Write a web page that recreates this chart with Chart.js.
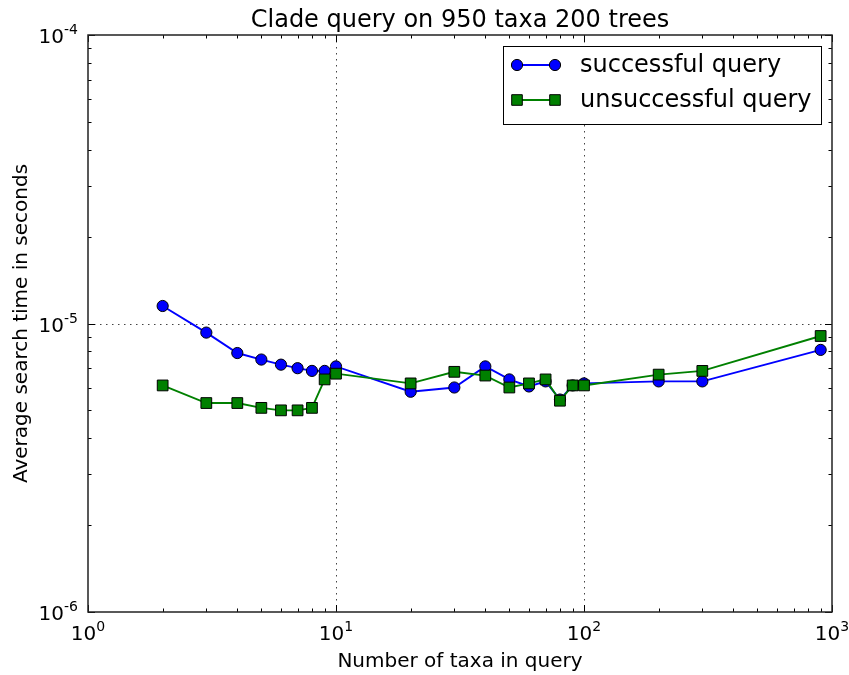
<!DOCTYPE html>
<html>
<head>
<meta charset="utf-8">
<script src="https://cdn.jsdelivr.net/npm/chart.js@4/dist/chart.umd.min.js"></script>
<style>
  body { margin: 0; background: #fff; }
  canvas { display: block; }
</style>
</head>
<body>
<canvas id="cladeChart" width="849" height="675"></canvas>
<script>
// values
const taxa = [2, 3, 4, 5, 6, 7, 8, 9, 10, 20, 30, 40, 50, 60, 70, 80, 90, 100, 200, 300, 900]
const successful = [1.15e-5, 9.3e-6, 7.9e-6, 7.5e-6, 7.2e-6, 7.0e-6, 6.85e-6, 6.85e-6, 7.1e-6,
    5.8e-6, 6.0e-6, 7.1e-6, 6.4e-6, 6.05e-6, 6.3e-6, 5.45e-6, 6.1e-6, 6.2e-6, 6.3e-6, 6.3e-6, 8.1e-6]
const unsuccessful = [6.1e-6, 5.3e-6, 5.3e-6, 5.1e-6, 5.0e-6, 5.0e-6, 5.1e-6, 6.4e-6, 6.7e-6,
    6.2e-6, 6.8e-6, 6.6e-6, 6.0e-6, 6.2e-6, 6.4e-6, 5.4e-6, 6.1e-6, 6.1e-6, 6.65e-6, 6.85e-6, 9.05e-6]

const xTickExp = [0, 1, 2, 3]
const yTickExp = [-6, -5, -4]
const titleText = 'Clade query on 950 taxa 200 trees'
const xLabel = 'Number of taxa in query'
const yLabel = 'Average search time in seconds'
const seriesNames = ['successful query', 'unsuccessful query']

const FONT = '"DejaVu Sans", sans-serif'

function pts(ys) {
    return taxa.map((x, i) => ({x: x, y: ys[i]}))
}

function powLabel(ctx, x, y, exp, align) {
    // draws 10^exp, y is baseline of "10"
    ctx.font = '20px ' + FONT
    let wBase = ctx.measureText('10').width
    ctx.font = '14px ' + FONT
    let wExp = ctx.measureText(String(exp)).width
    let total = wBase + wExp
    let left = align === 'right' ? x - total : x - total / 2
    ctx.textAlign = 'left'
    ctx.textBaseline = 'alphabetic'
    ctx.font = '20px ' + FONT
    ctx.fillText('10', left, y)
    ctx.font = '14px ' + FONT
    ctx.fillText(String(exp), left + wBase, y - 9)
}

const mplLook = {
    id: 'mplLook',
    beforeDraw(chart) {
        let ctx = chart.ctx
        ctx.save()
        ctx.fillStyle = '#fff'
        ctx.fillRect(0, 0, chart.width, chart.height)
        ctx.restore()
    },
    beforeDatasetsDraw(chart) {
        let ctx = chart.ctx
        let a = chart.chartArea
        let xs = chart.scales.x, ys = chart.scales.y
        ctx.save()
        ctx.strokeStyle = '#444'
        ctx.lineWidth = 1
        ctx.setLineDash([1.5, 4.5])
        xTickExp.slice(1, -1).forEach(e => {
            let px = Math.round(xs.getPixelForValue(Math.pow(10, e))) + 0.5
            ctx.beginPath(); ctx.moveTo(px, a.top); ctx.lineTo(px, a.bottom); ctx.stroke()
        })
        yTickExp.slice(1, -1).forEach(e => {
            let py = Math.round(ys.getPixelForValue(Math.pow(10, e))) + 0.5
            ctx.beginPath(); ctx.moveTo(a.left, py); ctx.lineTo(a.right, py); ctx.stroke()
        })
        ctx.restore()
    },
    afterDraw(chart) {
        let ctx = chart.ctx
        let a = chart.chartArea
        let xs = chart.scales.x, ys = chart.scales.y
        ctx.save()

        // ticks on all four sides, pointing inward
        ctx.strokeStyle = '#000'
        ctx.lineWidth = 1
        for (let i = 0; i < xTickExp.length; i++) {
            let e = xTickExp[i]
            let mults = i < xTickExp.length - 1 ? [1, 2, 3, 4, 5, 6, 7, 8, 9] : [1]
            mults.forEach(m => {
                let px = Math.round(xs.getPixelForValue(m * Math.pow(10, e))) + 0.5
                let len = m === 1 ? 7 : 3.5
                ctx.beginPath()
                ctx.moveTo(px, a.bottom); ctx.lineTo(px, a.bottom - len)
                ctx.moveTo(px, a.top); ctx.lineTo(px, a.top + len)
                ctx.stroke()
            })
        }
        for (let i = 0; i < yTickExp.length; i++) {
            let e = yTickExp[i]
            let mults = i < yTickExp.length - 1 ? [1, 2, 3, 4, 5, 6, 7, 8, 9] : [1]
            mults.forEach(m => {
                let py = Math.round(ys.getPixelForValue(m * Math.pow(10, e))) + 0.5
                let len = m === 1 ? 7 : 3.5
                ctx.beginPath()
                ctx.moveTo(a.left, py); ctx.lineTo(a.left + len, py)
                ctx.moveTo(a.right, py); ctx.lineTo(a.right - len, py)
                ctx.stroke()
            })
        }

        // frame
        ctx.strokeStyle = '#222'
        ctx.lineWidth = 1.5
        ctx.strokeRect(a.left, a.top, a.right - a.left, a.bottom - a.top)

        // tick labels
        ctx.fillStyle = '#000'
        xTickExp.forEach(e => {
            powLabel(ctx, xs.getPixelForValue(Math.pow(10, e)), a.bottom + 28, e, 'center')
        })
        yTickExp.forEach(e => {
            powLabel(ctx, a.left - 10, ys.getPixelForValue(Math.pow(10, e)) + 8, e, 'right')
        })

        // title and axis labels
        let cx = (a.left + a.right) / 2
        ctx.textAlign = 'center'
        ctx.textBaseline = 'alphabetic'
        ctx.font = '24px ' + FONT
        ctx.fillText(titleText, cx, 27)
        ctx.font = '20px ' + FONT
        ctx.fillText(xLabel, cx, 667)
        ctx.save()
        ctx.translate(27, (a.top + a.bottom) / 2)
        ctx.rotate(-Math.PI / 2)
        ctx.fillText(yLabel, 0, 0)
        ctx.restore()

        // legend
        let bx = 503, by = 46, bw = 318, bh = 78
        ctx.fillStyle = '#fff'
        ctx.fillRect(bx, by, bw, bh)
        ctx.strokeStyle = '#000'
        ctx.lineWidth = 1
        ctx.strokeRect(bx + 0.5, by + 0.5, bw, bh)
        let rows = [65, 100]
        chart.data.datasets.forEach((ds, i) => {
            let ry = rows[i]
            ctx.strokeStyle = ds.borderColor
            ctx.lineWidth = 1.8
            ctx.beginPath(); ctx.moveTo(517, ry); ctx.lineTo(555, ry); ctx.stroke()
            ;[517, 555].forEach(mx => {
                ctx.fillStyle = ds.pointBackgroundColor
                ctx.strokeStyle = '#000'
                ctx.lineWidth = 1
                ctx.beginPath()
                if (ds.pointStyle === 'rect') ctx.rect(mx - 5.3, ry - 5.3, 10.6, 10.6)
                else ctx.arc(mx, ry, 5.6, 0, Math.PI * 2)
                ctx.fill(); ctx.stroke()
            })
            ctx.fillStyle = '#000'
            ctx.font = '24px ' + FONT
            ctx.textAlign = 'left'
            ctx.textBaseline = 'middle'
            ctx.fillText(seriesNames[i], 580, ry + 1)
        })
        ctx.restore()
    }
}

let chartobj = document.getElementById('cladeChart')
let cladeChart = new Chart(chartobj, {
    type: 'line',
    data: {
        datasets: [{
            label: seriesNames[0],
            data: pts(successful),
            borderColor: '#0000ff',
            borderWidth: 1.9,
            pointStyle: 'circle',
            pointRadius: 5.6,
            pointBackgroundColor: '#0000ff',
            pointBorderColor: '#000',
            pointBorderWidth: 1,
            order: 2
        }, {
            label: seriesNames[1],
            data: pts(unsuccessful),
            borderColor: '#008000',
            borderWidth: 1.9,
            pointStyle: 'rect',
            pointRadius: 7.6,
            pointBackgroundColor: '#008000',
            pointBorderColor: '#000',
            pointBorderWidth: 1,
            order: 1
        }]
    },
    options: {
        responsive: false,
        animation: false,
        layout: {padding: {left: 88, right: 17, top: 35, bottom: 63}},
        scales: {
            x: {type: 'logarithmic', min: 1, max: 1000, display: false},
            y: {type: 'logarithmic', min: 1e-6, max: 1e-4, display: false}
        },
        plugins: {
            legend: {display: false},
            tooltip: {enabled: false}
        },
        elements: {line: {tension: 0}}
    },
    plugins: [mplLook]
});
</script>
</body>
</html>
